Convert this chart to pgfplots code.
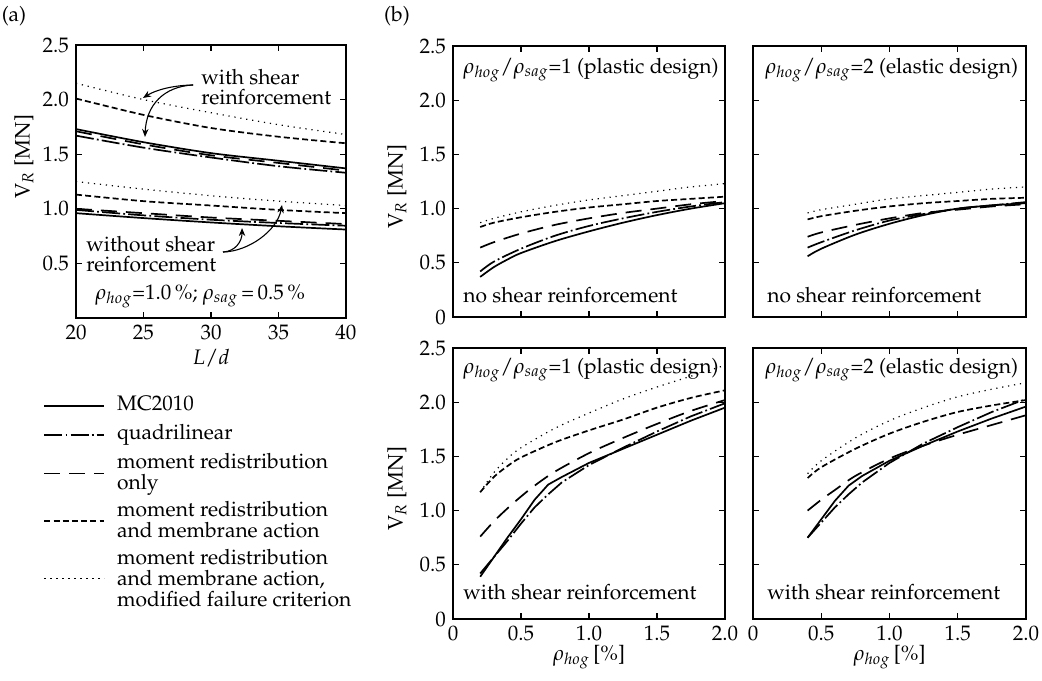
\documentclass[border=0pt]{standalone}
\usepackage[T1]{fontenc}
\usepackage{mathpazo}
\usepackage{pgfplots}
\pgfplotsset{compat=1.18}
\usetikzlibrary{arrows.meta}

\newcommand{\fs}{\fontsize{10.5}{12.5}\selectfont}
\newcommand{\lentry}[1]{\begin{tabular}[t]{@{}l@{}}#1\end{tabular}}
\tikzset{
  sMC/.style={black, line width=0.85pt},
  sQD/.style={black, line width=0.85pt, dash pattern=on 9pt off 1.6pt on 0.9pt off 1.6pt},
  sMR/.style={black, line width=0.85pt, dash pattern=on 8pt off 4.5pt},
  sMM/.style={black, line width=0.85pt, dash pattern=on 3pt off 1.6pt},
  sMF/.style={black, line width=0.6pt, dash pattern=on 0.6pt off 2.4pt},
  arr/.style={line width=0.55pt, -{Stealth[length=4pt,width=3.2pt]}},
}
\pgfplotsset{
  panel/.style={
    scale only axis, anchor=south west,
    tick align=inside, major tick length=3pt,
    axis line style={line width=0.6pt},
    every tick/.style={black, line width=0.6pt},
    tick label style={font=\fs},
    label style={font=\fs},
  },
  bpanel/.style={panel, width=136pt, height=135.5pt,
    xmin=0, xmax=2, ymin=0, ymax=2.5,
    xtick={0,0.5,1,1.5,2}, ytick={0,0.5,1,1.5,2,2.5},
    xticklabels={0,0.5,1.0,1.5,2.0},
    yticklabels={0,0.5,1.0,1.5,2.0,2.5},
  },
}

\begin{document}
\begin{tikzpicture}[font=\fs]
\path[use as bounding box] (0,0) rectangle (521pt,340pt);
\node at (7pt,332pt) {(a)};
\node at (198.5pt,332pt) {(b)};

% ---------------- panel (a)
\begin{axis}[panel, at={(38pt,181pt)}, width=135pt, height=136.5pt,
  xmin=20, xmax=40, ymin=0, ymax=2.5,
  xtick={20,25,30,35,40}, ytick={0.5,1,1.5,2,2.5},
  yticklabels={0.5,1.0,1.5,2.0,2.5},
  xlabel={$L/d$}, ylabel={V$_{R}$ [MN]},
  every axis x label/.style={at={(axis description cs:0.5,0)}, yshift=-20pt, anchor=center},
  every axis y label/.style={at={(axis description cs:0,0.59)}, xshift=-26pt, rotate=90, anchor=center},
  legend style={at={(axis description cs:-0.122,-0.284)}, anchor=north west,
    draw=none, fill=none, inner sep=0pt, row sep=4.2pt, column sep=6pt,
    nodes={inner sep=0pt, font=\fontsize{10.5}{9.3}\selectfont}},
  legend cell align=left,
  legend image code/.code={\draw[#1] (0pt,0pt) -- (30pt,0pt);},
]
% with shear reinforcement
\addplot[sMC, smooth] coordinates {(20,1.73) (25,1.61) (30,1.51) (35,1.44) (40,1.37)};
\addlegendentry[text depth=2.8pt]{\lentry{MC2010}}
\addplot[sQD, smooth] coordinates {(20,1.67) (25,1.56) (30,1.47) (35,1.39) (40,1.33)};
\addlegendentry[text depth=2.8pt]{\lentry{quadrilinear}}
\addplot[sMR, smooth] coordinates {(20,1.71) (25,1.59) (30,1.49) (35,1.42) (40,1.35)};
\addlegendentry[text depth=12.1pt]{\lentry{moment redistribution\\only}}
\addplot[sMM, smooth] coordinates {(20,2.01) (25,1.86) (30,1.74) (35,1.66) (40,1.60)};
\addlegendentry[text depth=12.1pt]{\lentry{moment redistribution\\and membrane action}}
\addplot[sMF, smooth] coordinates {(20,2.15) (25,2.00) (30,1.88) (35,1.77) (40,1.68)};
\addlegendentry[text depth=21.4pt]{\lentry{moment redistribution\\and membrane action,\\modified failure criterion}}
% without shear reinforcement
\addplot[sMC, smooth, forget plot] coordinates {(20,0.96) (25,0.915) (30,0.875) (35,0.84) (40,0.81)};
\addplot[sQD, smooth, forget plot] coordinates {(20,0.99) (25,0.94) (30,0.90) (35,0.87) (40,0.845)};
\addplot[sMR, smooth, forget plot] coordinates {(20,1.00) (25,0.96) (30,0.92) (35,0.89) (40,0.86)};
\addplot[sMM, smooth, forget plot] coordinates {(20,1.13) (25,1.07) (30,1.03) (35,0.99) (40,0.96)};
\addplot[sMF, smooth, forget plot] coordinates {(20,1.25) (25,1.18) (30,1.12) (35,1.07) (40,1.03)};
% annotations
\node[anchor=west, align=left, font=\fontsize{10.5}{10}\selectfont, inner sep=0pt] at (axis cs:29.26,2.115) {with shear\\reinforcement};
\draw[arr] (axis cs:28.67,2.134) .. controls (axis cs:27,2.13) and (axis cs:25.8,2.08) .. (axis cs:24.96,2.015);
\draw[arr] (axis cs:28.67,2.134) .. controls (axis cs:26.5,2.12) and (axis cs:25.2,1.95) .. (axis cs:25.11,1.658);
\node[anchor=west, align=left, font=\fontsize{10.5}{10}\selectfont, inner sep=0pt] at (axis cs:20.74,0.586) {without shear\\reinforcement};
\draw[arr] (axis cs:30.89,0.604) .. controls (axis cs:31.8,0.61) and (axis cs:32.3,0.70) .. (axis cs:32.3,0.824);
\draw[arr] (axis cs:30.89,0.604) .. controls (axis cs:32.8,0.61) and (axis cs:34.9,0.80) .. (axis cs:35.26,1.035);
\node[anchor=west, inner sep=0pt] at (axis cs:21.41,0.20) {$\rho_{hog}$=1.0\,\%; $\rho_{sag}$\,=\,0.5\,\%};
\end{axis}

% ---------------- panel (b) top left
\begin{axis}[bpanel, at={(226.5pt,181.5pt)}, xticklabels={},
  ylabel={V$_{R}$ [MN]},
  every axis y label/.style={at={(axis description cs:0,0.48)}, xshift=-28pt, rotate=90, anchor=center},
]
\addplot[sMC, smooth] coordinates {(0.2,0.37) (0.3,0.46) (0.4,0.53) (0.5,0.59) (0.75,0.70) (1.0,0.79) (1.25,0.87) (1.5,0.94) (1.75,1.00) (2.0,1.05)};
\addplot[sQD, smooth] coordinates {(0.2,0.42) (0.3,0.51) (0.5,0.63) (0.75,0.75) (1.0,0.84) (1.25,0.91) (1.5,0.97) (1.75,1.02) (2.0,1.06)};
\addplot[sMR, smooth] coordinates {(0.2,0.64) (0.3,0.69) (0.5,0.77) (0.75,0.85) (1.0,0.91) (1.25,0.96) (1.5,1.00) (1.75,1.04) (2.0,1.07)};
\addplot[sMM, smooth] coordinates {(0.2,0.83) (0.3,0.87) (0.5,0.92) (0.75,0.97) (1.0,1.01) (1.25,1.04) (1.5,1.07) (1.75,1.09) (2.0,1.11)};
\addplot[sMF, smooth] coordinates {(0.2,0.87) (0.3,0.91) (0.5,0.97) (0.75,1.03) (1.0,1.08) (1.25,1.12) (1.5,1.16) (1.75,1.20) (2.0,1.23)};
\node[anchor=west, inner sep=0pt] at (rel axis cs:0.037,0.911) {$\rho_{hog}/\rho_{sag}$=1 (plastic design)};
\node[anchor=west, inner sep=0pt] at (rel axis cs:0.037,0.08) {no shear reinforcement};
\end{axis}

% ---------------- panel (b) top right
\begin{axis}[bpanel, at={(376.5pt,181.5pt)}, width=136.5pt, xticklabels={}, yticklabels={}]
\addplot[sMC, smooth] coordinates {(0.4,0.56) (0.5,0.63) (0.75,0.76) (1.0,0.86) (1.25,0.94) (1.5,1.00) (1.75,1.03) (2.0,1.05)};
\addplot[sQD, smooth] coordinates {(0.4,0.64) (0.5,0.69) (0.75,0.80) (1.0,0.89) (1.25,0.95) (1.5,1.00) (1.75,1.03) (2.0,1.06)};
\addplot[sMR, smooth] coordinates {(0.4,0.74) (0.5,0.78) (0.75,0.85) (1.0,0.91) (1.25,0.96) (1.5,0.99) (1.75,1.02) (2.0,1.04)};
\addplot[sMM, smooth] coordinates {(0.4,0.90) (0.5,0.93) (0.75,0.98) (1.0,1.02) (1.25,1.05) (1.5,1.07) (1.75,1.09) (2.0,1.10)};
\addplot[sMF, smooth] coordinates {(0.4,0.96) (0.5,0.99) (0.75,1.04) (1.0,1.09) (1.25,1.12) (1.5,1.15) (1.75,1.18) (2.0,1.20)};
\node[anchor=west, inner sep=0pt] at (rel axis cs:0.044,0.911) {$\rho_{hog}/\rho_{sag}$=2 (elastic design)};
\node[anchor=west, inner sep=0pt] at (rel axis cs:0.051,0.08) {no shear reinforcement};
\end{axis}

% ---------------- panel (b) bottom left
\begin{axis}[bpanel, at={(226.5pt,30.5pt)},
  xlabel={$\rho_{hog}$\,[\%]}, ylabel={V$_{R}$ [MN]},
  every axis x label/.style={at={(axis description cs:0.5,0)}, yshift=-19pt, anchor=center},
  every axis y label/.style={at={(axis description cs:0,0.48)}, xshift=-28pt, rotate=90, anchor=center},
]
\addplot[sMC] coordinates {(0.2,0.39) (0.3,0.57) (0.4,0.75) (0.5,0.92) (0.6,1.10) (0.7,1.24) (0.8,1.31) (1.0,1.44) (1.25,1.57) (1.5,1.70) (1.75,1.83) (2.0,1.95)};
\addplot[sQD] coordinates {(0.2,0.42) (0.3,0.57) (0.4,0.72) (0.5,0.88) (0.6,1.03) (0.7,1.15) (0.8,1.26) (1.0,1.42) (1.25,1.58) (1.5,1.73) (1.75,1.87) (2.0,1.99)};
\addplot[sMR, smooth] coordinates {(0.2,0.76) (0.3,0.90) (0.4,1.02) (0.5,1.13) (0.6,1.23) (0.75,1.36) (1.0,1.53) (1.25,1.67) (1.5,1.80) (1.75,1.92) (2.0,2.02)};
\addplot[sMM, smooth] coordinates {(0.2,1.17) (0.3,1.31) (0.4,1.41) (0.5,1.49) (0.75,1.63) (1.0,1.74) (1.25,1.84) (1.5,1.95) (1.75,2.04) (2.0,2.11)};
\addplot[sMF, smooth] coordinates {(0.2,1.17) (0.3,1.35) (0.4,1.48) (0.5,1.58) (0.75,1.76) (1.0,1.90) (1.25,2.03) (1.5,2.14) (1.75,2.24) (2.0,2.34)};
\node[anchor=west, inner sep=0pt] at (rel axis cs:0.037,0.919) {$\rho_{hog}/\rho_{sag}$=1 (plastic design)};
\node[anchor=west, inner sep=0pt] at (rel axis cs:0.037,0.10) {with shear reinforcement};
\end{axis}

% ---------------- panel (b) bottom right
\begin{axis}[bpanel, at={(376.5pt,30.5pt)}, width=136.5pt, yticklabels={},
  xlabel={$\rho_{hog}$\,[\%]},
  every axis x label/.style={at={(axis description cs:0.5,0)}, yshift=-19pt, anchor=center},
]
\addplot[sMC] coordinates {(0.4,0.75) (0.5,0.92) (0.6,1.09) (0.7,1.23) (0.8,1.32) (1.0,1.46) (1.25,1.60) (1.5,1.73) (1.75,1.85) (2.0,1.96)};
\addplot[sQD] coordinates {(0.4,0.75) (0.5,0.89) (0.6,1.03) (0.7,1.15) (0.8,1.26) (1.0,1.44) (1.25,1.62) (1.5,1.77) (1.75,1.91) (2.0,2.03)};
\addplot[sMR, smooth] coordinates {(0.4,1.00) (0.5,1.10) (0.6,1.19) (0.75,1.32) (1.0,1.48) (1.25,1.60) (1.5,1.70) (1.75,1.79) (2.0,1.88)};
\addplot[sMM, smooth] coordinates {(0.4,1.30) (0.5,1.40) (0.75,1.57) (1.0,1.71) (1.25,1.82) (1.5,1.91) (1.75,1.97) (2.0,2.02)};
\addplot[sMF, smooth] coordinates {(0.4,1.34) (0.5,1.46) (0.75,1.67) (1.0,1.83) (1.25,1.95) (1.5,2.05) (1.75,2.12) (2.0,2.18)};
\node[anchor=west, inner sep=0pt] at (rel axis cs:0.044,0.919) {$\rho_{hog}/\rho_{sag}$=2 (elastic design)};
\node[anchor=west, inner sep=0pt] at (rel axis cs:0.051,0.10) {with shear reinforcement};
\end{axis}
\end{tikzpicture}
\end{document}
